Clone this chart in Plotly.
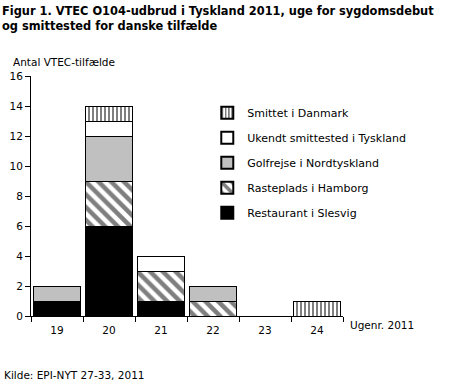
import plotly.graph_objects as go

weeks = ["19", "20", "21", "22", "23", "24"]
restaurant = [1, 6, 1, 0, 0, 0]
rasteplads = [0, 3, 2, 1, 0, 0]
golfrejse = [1, 3, 0, 1, 0, 0]
ukendt = [0, 1, 1, 0, 0, 0]
smittet_dk = [0, 1, 0, 0, 0, 1]

names = ["Restaurant i Slesvig", "Rasteplads i Hamborg", "Golfrejse i Nordtyskland",
         "Ukendt smittested i Tyskland", "Smittet i Danmark"]
series = [restaurant, rasteplads, golfrejse, ukendt, smittet_dk]
styles = [
    dict(color="black", pattern=dict(shape="")),
    dict(color="white", pattern=dict(shape="\\", fgcolor="black", bgcolor="white", size=9, solidity=0.5)),
    dict(color="#c0c0c0", pattern=dict(shape="")),
    dict(color="white", pattern=dict(shape="")),
    dict(color="white", pattern=dict(shape="|", fgcolor="black", bgcolor="white", size=4, solidity=0.5)),
]

fig = go.Figure()
for i, (n, s, st) in enumerate(zip(names, series, styles)):
    fig.add_trace(go.Bar(
        x=weeks, y=s, name=n, legendgroup=f"g{i}", legendrank=1000 - i,
        marker=dict(color=st["color"], pattern=st["pattern"], line=dict(color="black", width=1)),
    ))

fnt = "Verdana, DejaVu Sans, sans-serif"
fig.update_layout(
    barmode="stack", bargap=0.1,
    width=449, height=387,
    margin=dict(l=31, r=106, t=76, b=71, autoexpand=False),
    paper_bgcolor="white", plot_bgcolor="white",
    font=dict(family=fnt, size=10.5, color="black"),
    showlegend=True,
    legend=dict(x=0.565, y=0.907, xanchor="left", yanchor="top", traceorder="grouped",
                font=dict(size=11), itemsizing="constant", tracegroupgap=6,
                bgcolor="rgba(0,0,0,0)", itemwidth=30),
    xaxis=dict(showline=True, linecolor="black", ticks="outside", tickson="boundaries",
               ticklen=5, tickcolor="black", showgrid=False, automargin=False,
               ticklabelstandoff=4),
    yaxis=dict(range=[0, 16], dtick=2, showline=True, linecolor="black", ticks="outside",
               ticklen=5, tickcolor="black", showgrid=False, zeroline=False, automargin=False),
    annotations=[
        dict(text="<b>Figur 1. VTEC O104-udbrud i Tyskland 2011, uge for sygdomsdebut<br>og smittested for danske tilfælde</b>",
             xref="paper", yref="paper", x=-31/312, y=1 + 74/240, xanchor="left", yanchor="top",
             showarrow=False, align="left", font=dict(family="Tahoma, DejaVu Sans, sans-serif", size=11.4)),
        dict(text="Antal VTEC-tilfælde", xref="paper", yref="paper", x=-20/312, y=1 + 14/240,
             xanchor="left", yanchor="middle", showarrow=False),
        dict(text="Ugenr. 2011", xref="paper", yref="paper", x=1 + 5/312, y=-9/240,
             xanchor="left", yanchor="middle", showarrow=False),
        dict(text="Kilde: EPI-NYT 27-33, 2011", xref="paper", yref="paper", x=-29/312, y=-59/240,
             xanchor="left", yanchor="middle", showarrow=False),
    ],
)

fig.write_html("out.html", config={"displayModeBar": False},
               post_script="document.body.style.margin='0';document.body.style.padding='0';")
